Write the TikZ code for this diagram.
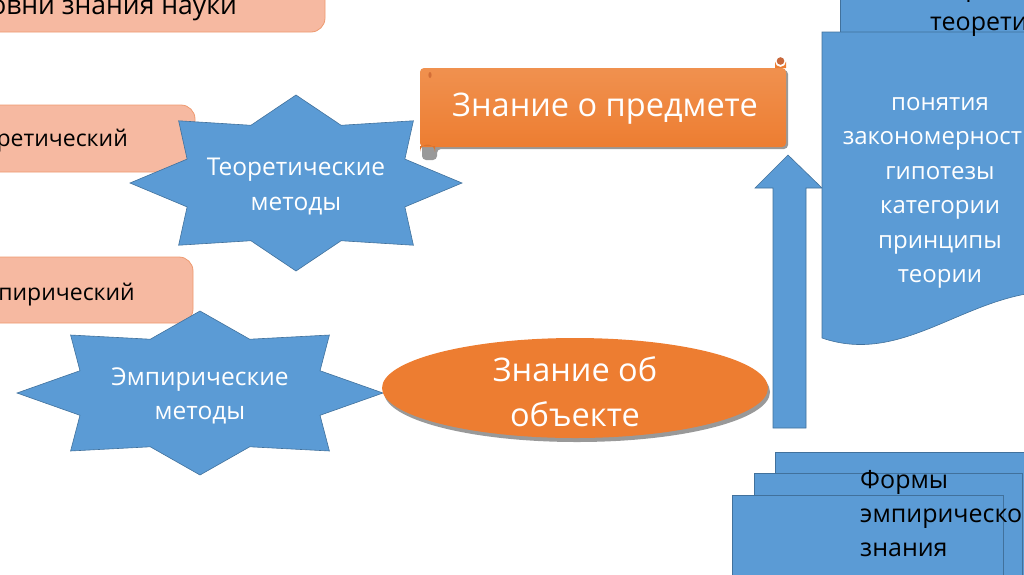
\documentclass[tikz,border=0pt]{standalone}
\usepackage{fontspec}
\setmainfont{Open Sans}
\usetikzlibrary{shapes.geometric}
\definecolor{bluefill}{HTML}{5B9BD5}
\definecolor{blueline}{HTML}{41719C}
\definecolor{orng}{HTML}{ED7D31}
\definecolor{orngtop}{HTML}{F0914F}
\definecolor{curl}{HTML}{C8683A}
\definecolor{salmon}{HTML}{F6B9A1}
\definecolor{salmonline}{HTML}{EE9A70}
\tikzset{
  salmonbox/.style={fill=salmon,draw=salmonline,line width=0.8pt,rounded corners=14pt},
  bluebox/.style={fill=bluefill,draw=blueline,line width=0.6pt},
  whitetext/.style={text=white,align=center,inner sep=0pt},
  blacktext/.style={text=black,inner sep=0pt},
}
\begin{document}
\begin{tikzpicture}[x=1pt,y=-1pt]
\useasboundingbox (0,0) rectangle (1024,574);
\clip (0,0) rectangle (1024,574);
% salmon level boxes
\draw[salmonbox] (-60,-40) rectangle (325,32);
\node[blacktext,anchor=east,font=\fontsize{26.5}{30}\selectfont] (lvl) at (237,8) {Уровни знания науки};
\draw[salmonbox] (-60,105) rectangle (195,172);
\node[blacktext,anchor=east,font=\fontsize{23}{30}\selectfont] (teo) at (128,141) {Теоретический};
\draw[salmonbox] (-60,257) rectangle (193,323);
\node[blacktext,anchor=east,font=\fontsize{23}{30}\selectfont] (emp) at (135,295) {Эмпирический};
% theoretical star
\draw[bluebox] (296+166,183) \foreach \i [evaluate=\i as \f using {1-0.29*mod(\i,2)}] in {1,...,15} { -- ({296+\f*166*cos(\i*22.5)},{183+\f*88*sin(\i*22.5)}) } -- cycle;
\node[whitetext,font=\fontsize{24.5}{35}\selectfont] (teostar) at (296,187) {Теоретические\\методы};
% empirical star
\draw[bluebox] (200+183,393) \foreach \i [evaluate=\i as \f using {1-0.29*mod(\i,2)}] in {1,...,15} { -- ({200+\f*183*cos(\i*22.5)},{393+\f*82*sin(\i*22.5)}) } -- cycle;
\node[whitetext,font=\fontsize{24.5}{34}\selectfont] (empstar) at (200,396) {Эмпирические\\методы};
% scroll
\fill[black!40,rounded corners=4pt] (422,70) -- (422,160) -- (437,160) -- (437,149) -- (788,149) -- (788,70) -- cycle;
\shade[top color=orngtop,bottom color=orng,rounded corners=4pt] (420,68) -- (420,147) -- (786,147) -- (786,68) -- cycle;
\fill[orng] (775,68) -- (775,61.5) arc[start angle=180,end angle=0,radius=5.5] -- (786,68) -- cycle;
\fill[curl] (780.5,61) circle (3.8);
\fill[orng!92!black] (420,146) -- (420,152) arc[start angle=180,end angle=360,radius=7.5] -- (435,146) -- cycle;
\fill[curl!70!orng] (430,75) ellipse[x radius=1.6,y radius=3];
\node[whitetext,font=\fontsize{32.5}{38}\selectfont] (subj) at (605,109) {Знание о предмете};
% ellipse
\fill[black!40] (577,392) ellipse[x radius=193,y radius=50];
\fill[orng] (575,388) ellipse[x radius=193,y radius=50];
\node[whitetext,font=\fontsize{32.5}{45}\selectfont] (obj) at (575,392) {Знание об\\объекте};
% up arrow
\draw[bluebox] (773,428) -- (773,188) -- (755,188) -- (788,155) -- (822,188) -- (806,188) -- (806,428) -- cycle;
% theoretical forms
\draw[bluebox] (840,-10) rectangle (1040,33);
\draw[bluebox] (822,32) -- (1040,32) -- (1040,292) .. controls (960,300) and (900,365) .. (822,338) -- cycle;
\node[blacktext,align=left,anchor=north west,font=\fontsize{25}{34}\selectfont] (tforms) at (930,-22) {Формы\\теоретического};
\node[whitetext,font=\fontsize{24}{34.5}\selectfont] (tlist) at (940,193) {понятия\\закономерности\\гипотезы\\категории\\принципы\\теории};
% empirical forms
\draw[bluebox] (775,452) rectangle (1040,600);
\draw[bluebox] (754,473) rectangle (1022,600);
\draw[bluebox] (732,495) rectangle (1003,600);
\node[blacktext,align=left,anchor=west,font=\fontsize{25}{34}\selectfont] (eforms) at (860,514) {Формы\\эмпирического\\знания};
\end{tikzpicture}
\end{document}
